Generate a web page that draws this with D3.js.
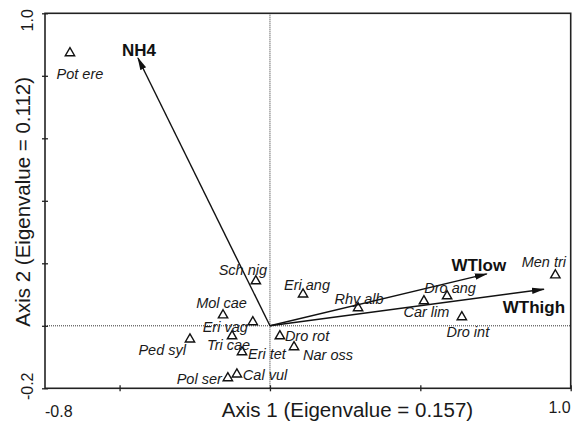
<!DOCTYPE html>
<html lang="en">
<head>
  <meta charset="UTF-8">
  <title>CCA biplot - Axis 1 vs Axis 2</title>
  <script src="https://d3js.org/d3.v7.min.js"></script>
  <style>
    body { margin: 0; background: #fff; }
    svg { font-family: "Liberation Sans", Arial, sans-serif; }
    .species { font-style: italic; font-size: 14.5px; fill: #1a1a1a; }
    .env { font-weight: bold; font-size: 17px; fill: #111; }
    .tick-label { font-size: 16px; fill: #1a1a1a; }
    .axis-title { font-size: 20.5px; fill: #1a1a1a; }
  </style>
</head>
<body>
  <svg width="580" height="424"></svg>

  <script>
    // species scores (axis 1, axis 2)
    const speciesNames = ["Pot ere", "Sch nig", "Mol cae", "Eri vag", "Ped syl", "Tri cae",
                          "Eri tet", "Pol ser", "Cal vul", "Dro rot", "Nar oss", "Eri ang",
                          "Rhy alb", "Car lim", "Dro ang", "Dro int", "Men tri"];
    const speciesAx1 = [-0.665, -0.047, -0.156, -0.057, -0.266, -0.126,
                        -0.093, -0.140, -0.110, 0.033, 0.080, 0.110,
                        0.293, 0.512, 0.589, 0.638, 0.949];
    const speciesAx2 = [0.873, 0.143, 0.034, 0.012, -0.043, -0.033,
                        -0.084, -0.167, -0.155, -0.033, -0.068, 0.101,
                        0.057, 0.079, 0.095, 0.028, 0.162];

    // environmental variable arrows
    const envNames = ["NH4", "WTlow", "WThigh"];
    const envAx1 = [-0.439, 0.721, 0.911];
    const envAx2 = [0.857, 0.166, 0.117];

    const xEndLabels = ["-0.8", "1.0"];
    const yEndLabels = ["-0.2", "1.0"];
    const xTitle = "Axis 1 (Eigenvalue = 0.157)";
    const yTitle = "Axis 2 (Eigenvalue = 0.112)";

    // label placement: [dx, dy, anchor] relative to the point
    const speciesLabelPos = {
      "Pot ere": [10, 21, "middle"], "Sch nig": [-13, -11, "middle"],
      "Mol cae": [-1.5, -12, "middle"], "Eri vag": [-5, 5, "end"],
      "Ped syl": [-4, 11, "end"], "Tri cae": [-3.5, 9, "middle"],
      "Eri tet": [6, 2, "start"], "Pol ser": [-6, 1, "end"],
      "Cal vul": [6, 1, "start"], "Dro rot": [5, 0, "start"],
      "Nar oss": [9, 8, "start"], "Eri ang": [4, -9, "middle"],
      "Rhy alb": [1, -9.5, "middle"], "Car lim": [2.5, 11, "middle"],
      "Dro ang": [3, -8, "middle"], "Dro int": [6, 15, "middle"],
      "Men tri": [-11.5, -13, "middle"]
    };
    const envLabelPos = {
      "NH4": [1, -8, "middle"], "WTlow": [-8, -9, "middle"], "WThigh": [-10, 18, "middle"]
    };

    const svg = d3.select("svg");
    const plotLeft = 45, plotRight = 570.7, plotTop = 13.3, plotBottom = 388.3;

    const x = d3.scaleLinear().domain([-0.748, 1.0]).range([plotLeft, plotRight]);
    const y = d3.scaleLinear().domain([-0.2, 1.0]).range([plotBottom, plotTop]);

    // arrow head
    svg.append("defs").append("marker")
      .attr("id", "head")
      .attr("markerUnits", "userSpaceOnUse")
      .attr("viewBox", "0 -4 13 8")
      .attr("refX", 12).attr("refY", 0)
      .attr("markerWidth", 13).attr("markerHeight", 8)
      .attr("orient", "auto")
      .append("path")
      .attr("d", "M0,-3.2L13,0L0,3.2Z")
      .attr("fill", "#111");

    // zero lines
    svg.append("line")
      .attr("x1", x(0)).attr("x2", x(0))
      .attr("y1", plotTop).attr("y2", plotBottom)
      .attr("stroke", "#333").attr("stroke-width", 1)
      .attr("stroke-dasharray", "1,1");
    svg.append("line")
      .attr("x1", plotLeft).attr("x2", plotRight)
      .attr("y1", y(0)).attr("y2", y(0))
      .attr("stroke", "#333").attr("stroke-width", 1)
      .attr("stroke-dasharray", "1,1");

    // axes with short crossing ticks
    const xAxis = svg.append("g")
      .attr("transform", `translate(0,${plotBottom})`)
      .call(d3.axisBottom(x).tickValues([-0.5, 0, 0.5, 1.0]).tickSize(3).tickFormat(""));
    xAxis.selectAll(".tick line").attr("y1", -3).attr("stroke", "#222").attr("stroke-width", 1.3);

    const yAxis = svg.append("g")
      .attr("transform", `translate(${plotLeft},0)`)
      .call(d3.axisLeft(y).tickValues([-0.2, 0, 0.2, 0.4, 0.6, 0.8, 1.0]).tickSize(3).tickFormat(""));
    yAxis.selectAll(".tick line").attr("x1", 3).attr("stroke", "#222").attr("stroke-width", 1.3);
    svg.selectAll(".domain").remove();

    // frame
    svg.append("rect")
      .attr("x", plotLeft).attr("y", plotTop)
      .attr("width", plotRight - plotLeft).attr("height", plotBottom - plotTop)
      .attr("fill", "none").attr("stroke", "#222").attr("stroke-width", 1.6);

    // end labels
    svg.append("text").attr("class", "tick-label")
      .attr("x", x.range()[0]).attr("y", 417).attr("text-anchor", "start")
      .text(xEndLabels[0]);
    svg.append("text").attr("class", "tick-label")
      .attr("x", x.range()[1]).attr("y", 413).attr("text-anchor", "end")
      .text(xEndLabels[1]);
    svg.append("text").attr("class", "tick-label")
      .attr("transform", `translate(33,${y(-0.2) - 2}) rotate(-90)`)
      .attr("text-anchor", "middle")
      .text(yEndLabels[0]);
    svg.append("text").attr("class", "tick-label")
      .attr("transform", `translate(33,${y(1.0) + 7}) rotate(-90)`)
      .attr("text-anchor", "middle")
      .text(yEndLabels[1]);

    // axis titles
    svg.append("text").attr("class", "axis-title")
      .attr("x", 347.5).attr("y", 416.5).attr("text-anchor", "middle")
      .text(xTitle);
    svg.append("text").attr("class", "axis-title")
      .attr("transform", `translate(30,${(plotTop + plotBottom) / 2 + 1}) rotate(-90)`)
      .attr("text-anchor", "middle")
      .text(yTitle);

    // species triangles
    const species = speciesNames.map((n, i) => ({name: n, a1: speciesAx1[i], a2: speciesAx2[i]}));
    const tri = d3.symbol().type(d3.symbolTriangle).size(38);

    svg.append("g").selectAll("path")
      .data(species)
      .enter()
      .append("path")
        .attr("d", tri)
        .attr("transform", d => `translate(${x(d.a1)},${y(d.a2)})`)
        .attr("fill", "none")
        .attr("stroke", "#111")
        .attr("stroke-width", 1.4);

    // environmental arrows
    const env = envNames.map((n, i) => ({name: n, a1: envAx1[i], a2: envAx2[i]}));
    svg.append("g").selectAll("line")
      .data(env)
      .enter()
      .append("line")
        .attr("x1", x(0)).attr("y1", y(0))
        .attr("x2", d => x(d.a1)).attr("y2", d => y(d.a2))
        .attr("stroke", "#111").attr("stroke-width", 1.4)
        .attr("marker-end", "url(#head)");

    // labels
    svg.append("g").selectAll("text")
      .data(species)
      .enter()
      .append("text")
        .attr("class", "species")
        .attr("x", d => x(d.a1) + speciesLabelPos[d.name][0])
        .attr("y", d => y(d.a2) + speciesLabelPos[d.name][1])
        .attr("dy", "0.35em")
        .attr("text-anchor", d => speciesLabelPos[d.name][2])
        .text(d => d.name);

    svg.append("g").selectAll("text")
      .data(env)
      .enter()
      .append("text")
        .attr("class", "env")
        .attr("x", d => x(d.a1) + envLabelPos[d.name][0])
        .attr("y", d => y(d.a2) + envLabelPos[d.name][1])
        .attr("dy", "0.35em")
        .attr("text-anchor", d => envLabelPos[d.name][2])
        .text(d => d.name);
  </script>
</body>
</html>
